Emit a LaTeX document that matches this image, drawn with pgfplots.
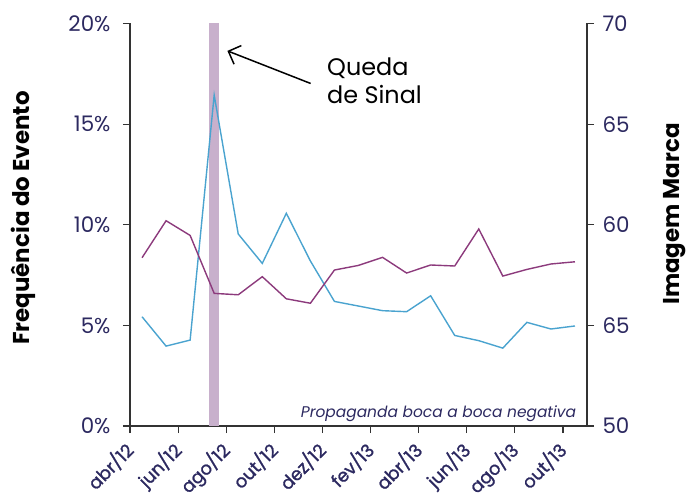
\documentclass[border=0pt]{standalone}
\usepackage{fontspec}
\setmainfont{Poppins}
\newfontfamily\medfont{Poppins}[FakeBold=1.2]
\usepackage{pgfplots}
\usepackage{pgfplotstable}
\pgfplotsset{compat=1.18}
\usetikzlibrary{arrows.meta}
\definecolor{blueline}{HTML}{4AA3CF}
\definecolor{purpline}{HTML}{8C3A7C}
\definecolor{bandc}{HTML}{C8B0CC}
\definecolor{navy}{HTML}{2C2960}
\definecolor{axisc}{HTML}{333333}

\pgfplotstableread{
x freq
0 5.43
1 3.97
2 4.27
3 16.44
4 9.54
5 8.08
6 10.57
7 8.20
8 6.19
9 5.96
10 5.73
11 5.68
12 6.47
13 4.50
14 4.24
15 3.87
16 5.15
17 4.82
18 4.97
}\freqtable

\pgfplotstableread{
x img
0 58.36
1 60.20
2 59.47
3 56.59
4 56.52
5 57.42
6 56.32
7 56.10
8 57.75
9 57.98
10 58.38
11 57.60
12 58.00
13 57.95
14 59.79
15 57.45
16 57.78
17 58.05
18 58.16
}\imgtable

\begin{document}
\begin{tikzpicture}
\path[use as bounding box] (-130bp,-74bp) rectangle (557bp,426bp);
\begin{axis}[
  scale only axis, width=457bp, height=402.5bp,
  at={(0,0)}, anchor=south west,
  xmin=-0.5, xmax=18.5, ymin=0, ymax=20,
  axis x line*=bottom, axis y line*=left,
  axis line style={axisc, line width=1.2bp},
  tick align=outside,
  major tick length=7bp, minor tick length=7bp,
  every tick/.style={axisc, line width=1.2bp},
  xtick={0,2,...,18},
  xticklabels={abr/12,jun/12,ago/12,out/12,dez/12,fev/13,abr/13,jun/13,ago/13,out/13},
  minor xtick={-0.5,1.5,...,17.5},
  major x tick style={draw=none},
  x tick label style={xshift=-19bp, yshift=-5bp, rotate=45, anchor=north east, font=\fontsize{18}{21}\selectfont\medfont, text=navy, inner sep=1bp},
  ytick={0,5,10,15,20},
  yticklabels={0\%,5\%,10\%,15\%,20\%},
  y tick label style={xshift=-9bp, font=\fontsize{21.5}{25}\selectfont, text=navy},
  /pgf/number format/assume math mode=true,
  clip=false,
]
\addplot[fill=bandc, draw=none] coordinates {(2.79,0) (3.21,0) (3.21,20) (2.79,20)} -- cycle;
\addplot[blueline, line width=1.4bp] table[x=x, y=freq] {\freqtable};
\draw[black, line width=1.5bp, -{Straight Barb[length=10bp, width=20bp, line width=1.5bp]}] (axis cs:7.01,17.02) -- (axis cs:3.55,18.64);
\node[anchor=base west, inner sep=0, font=\fontsize{24}{28}\selectfont] at (axis cs:7.69,17.44) {Queda};
\node[anchor=base west, inner sep=0, font=\fontsize{24}{28}\selectfont] at (axis cs:7.69,16.0) {de Sinal};
\node[anchor=base east, inner sep=0, font=\fontsize{15.5}{18}\selectfont\itshape, text=navy] at (axis cs:18.05,0.4) {Propaganda boca a boca negativa};
\end{axis}
\begin{axis}[
  scale only axis, width=457bp, height=402.5bp,
  at={(0,0)}, anchor=south west,
  xmin=-0.5, xmax=18.5, ymin=50, ymax=70,
  axis x line=none, axis y line*=right,
  axis line style={axisc, line width=1.2bp},
  tick align=outside,
  major tick length=7bp,
  every tick/.style={axisc, line width=1.2bp},
  ytick={50,55,60,65,70},
  yticklabels={50,65,60,65,70},
  y tick label style={xshift=5bp, font=\fontsize{21.5}{25}\selectfont, text=navy},
  /pgf/number format/assume math mode=true,
]
\addplot[purpline, line width=1.4bp] table[x=x, y=img] {\imgtable};
\end{axis}
\node[rotate=90, font=\fontsize{23}{27}\selectfont\bfseries] at (-107bp,208bp) {Frequência do Evento};
\node[rotate=90, font=\fontsize{23}{27}\selectfont\bfseries] at (545bp,212bp) {Imagem Marca};
\end{tikzpicture}
\end{document}
